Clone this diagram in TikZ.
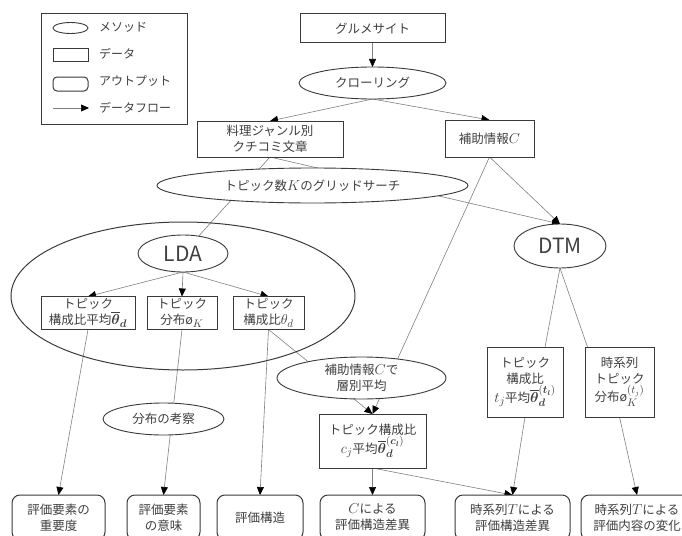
\documentclass[tikz,border=0pt]{standalone}
\usepackage{amsmath}
\usepackage{fontspec}
\setmainfont{Noto Sans CJK JP}
\usetikzlibrary{shapes.geometric,arrows.meta,backgrounds}
\definecolor{bcol}{HTML}{3A3A3A}
\definecolor{lcol}{HTML}{808080}
\definecolor{tcol}{HTML}{404040}
\newcommand{\mth}[1]{{\fontsize{15pt}{16pt}\selectfont$#1$}}
\tikzset{
 base/.style={inner sep=0pt, outer sep=0pt, align=center, text=tcol, font=\fontsize{12.5pt}{16pt}\selectfont},
 databox/.style={base, rectangle, draw=bcol, line width=1pt, fill=white},
 methnode/.style={base, ellipse, draw=bcol, line width=0.9pt, fill=white},
 outbox/.style={base, rectangle, rounded corners=8pt, draw=bcol, line width=1pt, fill=white},
 flow/.style={draw=lcol, line width=0.6pt},
 arr/.style={flow, -{Triangle[length=8pt,width=7pt,color=black]}},
 bigtext/.style={font=\fontsize{21pt}{24pt}\selectfont},
 legtext/.style={base, anchor=west, font=\fontsize{12pt}{14pt}\selectfont},
}
\begin{document}
\begin{tikzpicture}[x=1pt,y=-1pt]
\useasboundingbox (0,0) rectangle (682,535);
\begin{scope}
\clip (0,0) rectangle (682,535);
% legend
\node[databox, minimum width=146pt, minimum height=110pt] (legend) at (114,69) {};
\node[methnode, minimum width=35pt, minimum height=11pt] (lgm) at (70.5,28) {};
\node[legtext] (lgmt) at (99,27) {メソッド};
\node[databox, minimum width=35pt, minimum height=13pt] (lgd) at (70.5,55.5) {};
\node[legtext] (lgdt) at (99,54) {データ};
\node[outbox, rounded corners=4pt, minimum width=35pt, minimum height=14pt] (lgo) at (70.5,84) {};
\node[legtext] (lgot) at (99,81) {アウトプット};
\coordinate (la1) at (53,108);
\coordinate (la2) at (89,108);
\node[legtext] (lgat) at (99,108) {データフロー};
\draw[arr] (la1) -- (la2);

% top
\node[databox, minimum width=145pt, minimum height=29pt] (site) at (372.5,28.5) {グルメサイト};
\node[methnode, minimum width=147pt, minimum height=32pt] (crawl) at (372.5,83) {クローリング};
\node[databox, minimum width=146pt, minimum height=36pt] (src) at (270,139) {料理ジャンル別\\クチコミ文章};
\node[databox, minimum width=89pt, minimum height=37pt] (aux) at (489.5,138.5) {補助情報\mth{C}};
\node[methnode, minimum width=311pt, minimum height=35pt] (grid) at (312.5,185.5) {トピック数\mth{K}のグリッドサーチ};

% LDA group
\node[ellipse, draw=bcol, line width=1pt, minimum width=344pt, minimum height=148pt, inner sep=0pt] (ldagrp) at (183,296) {};
\node[methnode, bigtext, minimum width=90pt, minimum height=37pt] (lda) at (183,253.5) {LDA};
\node[databox, minimum width=94pt, minimum height=33pt] (b1) at (88,313) {トピック\\構成比平均\mth{\overline{\boldsymbol{\theta}}_{\boldsymbol{d}}}};
\node[databox, minimum width=70pt, minimum height=33pt] (b2) at (182,313) {トピック\\分布ø\mth{_K}};
\node[databox, minimum width=71pt, minimum height=33pt] (b3) at (268.5,313) {トピック\\構成比\mth{\theta_d}};
\node[methnode, minimum width=121pt, minimum height=32pt] (kous) at (163.5,419) {分布の考察};

% middle
\node[methnode, minimum width=169pt, minimum height=42pt] (strat) at (361.5,378) {補助情報\mth{C}で\\層別平均};
\node[databox, minimum width=107pt, minimum height=54pt] (cj) at (372.5,441) {トピック構成比\\\mth{c_j}平均\mth{\overline{\boldsymbol{\theta}}^{(\boldsymbol{c_l})}_{\boldsymbol{d}}}};

% DTM
\node[methnode, bigtext, minimum width=92pt, minimum height=44pt] (dtm) at (560,246) {DTM};
\node[databox, minimum width=76pt, minimum height=70pt] (tj) at (525,382) {トピック\\構成比\\\mth{t_j}平均\mth{\overline{\boldsymbol{\theta}}^{(\boldsymbol{t_l})}_{\boldsymbol{d}}}};
\node[databox, minimum width=69pt, minimum height=70pt] (ts) at (619.5,382) {時系列\\トピック\\分布ø\mth{^{(t_j)}_{K}}};

% outputs
\node[outbox, minimum width=93pt, minimum height=45pt] (o1) at (58.5,517.5) {評価要素の\\重要度};
\node[outbox, minimum width=73pt, minimum height=45pt] (o2) at (163.5,517.5) {評価要素\\の意味};
\node[outbox, minimum width=86pt, minimum height=45pt] (o3) at (260,517.5) {評価構造};
\node[outbox, minimum width=105pt, minimum height=45pt] (o4) at (372.5,517.5) {\mth{C}による\\評価構造差異};
\node[outbox, minimum width=115pt, minimum height=45pt] (o5) at (512.5,517.5) {時系列\mth{T}による\\評価構造差異};
\node[outbox, minimum width=112pt, minimum height=45pt] (o6) at (637,517.5) {時系列\mth{T}による\\評価内容の変化};

\begin{pgfonlayer}{background}
\draw[arr] (site) -- (crawl);
\draw[arr] (crawl.south) -- (src.north);
\draw[arr] (crawl.south) -- (aux.north);
\draw[flow] (src.south) -- (lda);
\draw[arr] (src.south) -- (dtm.north);
\draw[arr] (aux.south) -- (dtm.north);
\draw[arr] (aux.south) -- (cj.north);
\draw[arr] (lda.south) -- (b1.north);
\draw[arr] (lda.south) -- (b2.north);
\draw[arr] (lda.south) -- (b3.north);
\draw[arr] (b1.south) -- (o1.north);
\draw[arr] (b2.south) -- (o2.north);
\draw[arr] (b3.south) -- (o3.north);
\draw[arr] (b3.south) -- (cj.north);
\draw[flow] (dtm.south) -- ([xshift=20pt]tj.north);
\draw[flow] (dtm.south) -- ([xshift=-32pt]ts.north);
\draw[arr] (tj.south) -- (o5.north);
\draw[arr] (cj.south) -- (o5.north);
\draw[arr] (cj.south) -- (o4.north);
\draw[arr] (ts.south) -- (o6.north);
\end{pgfonlayer}
\end{scope}
\end{tikzpicture}
\end{document}
